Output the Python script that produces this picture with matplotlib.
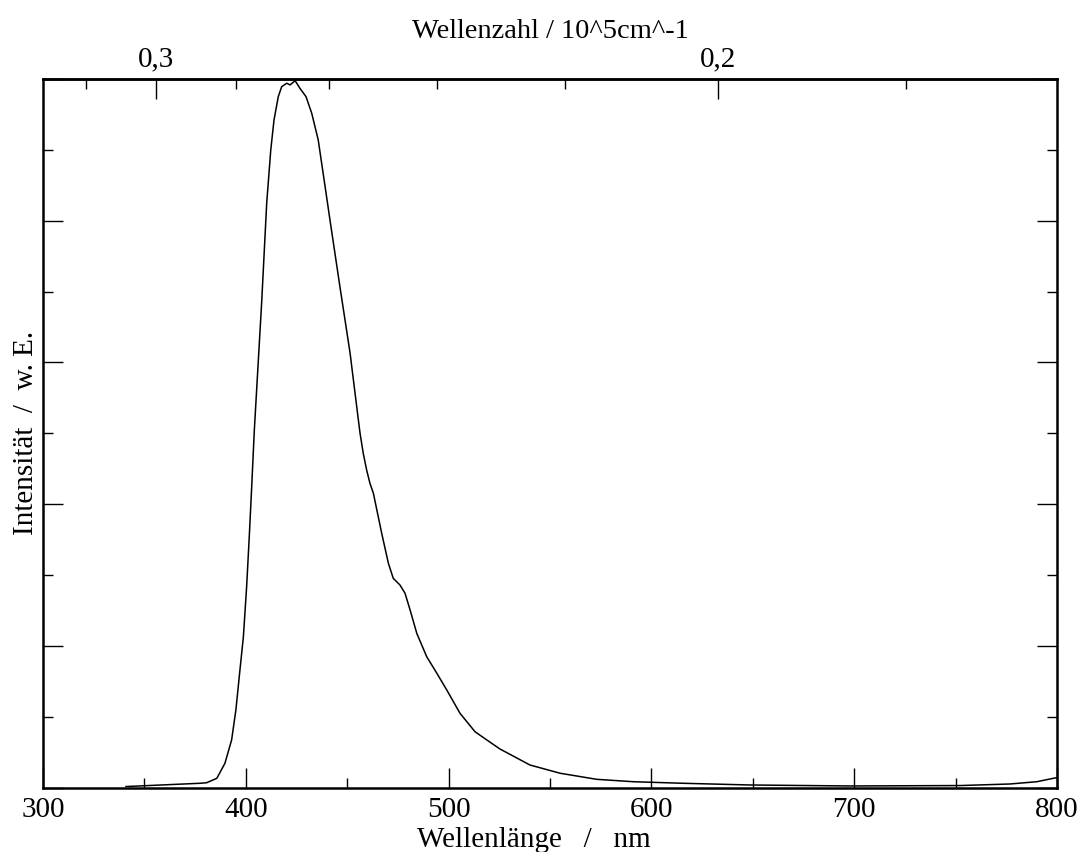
import numpy as np
import matplotlib
matplotlib.use("Agg")
import matplotlib.pyplot as plt
from matplotlib.ticker import FixedLocator, FuncFormatter, NullFormatter

plt.rcParams['font.family'] = ['Liberation Serif', 'DejaVu Serif']

# emission spectrum
wavelength = [340.9, 377.4, 380.7, 385.7, 389.7, 393.0, 395.1, 397.1, 398.8, 400.4,
              401.7, 402.9, 404.2, 407.8, 410.3, 412.3, 413.9, 416.0, 417.7, 420.2,
              421.8, 424.3, 426.7, 429.7, 432.5, 435.7, 439.1, 441.5, 446.4, 451.4,
              455.5, 456.3, 457.9, 459.6, 461.2, 462.9, 467.0, 470.3, 472.7, 476.0,
              478.5, 481.0, 484.3, 489.2, 494.2, 499.1, 505.6, 513.0, 518.8, 525.3,
              540.1, 554.9, 573.0, 591.1, 615.7, 648.6, 697.9, 752.2, 776.8, 790.0,
              799.9]
intensity = [0.008, 0.031, 0.035, 0.066, 0.172, 0.337, 0.548, 0.830, 1.065, 1.418,
             1.771, 2.124, 2.524, 3.420, 4.125, 4.499, 4.711, 4.875, 4.946, 4.970,
             4.958, 4.988, 4.934, 4.875, 4.758, 4.570, 4.240, 4.005, 3.535, 3.067,
             2.594, 2.503, 2.359, 2.240, 2.148, 2.077, 1.795, 1.583, 1.477, 1.430,
             1.372, 1.254, 1.089, 0.924, 0.807, 0.689, 0.525, 0.395, 0.337, 0.273,
             0.160, 0.102, 0.059, 0.042, 0.031, 0.019, 0.012, 0.015, 0.026, 0.042,
             0.071]

top_major = [0.2, 0.3]
top_minor = [0.18, 0.22, 0.24, 0.26, 0.28, 0.32]


def to_wavenumber(lam):
    lam = np.asarray(lam, dtype=float)
    return 166.4 / (lam + 199.0)


def to_wavelength(v):
    v = np.asarray(v, dtype=float)
    with np.errstate(divide='ignore'):
        return 166.4 / v - 199.0


fig = plt.figure(figsize=(10.81, 8.52), dpi=100)
ax = fig.add_axes([0.0398, 0.0755, 0.9380, 0.8318])

ax.plot(wavelength, intensity, color='black', linewidth=1.1)

ax.set_xlim(300, 800)
ax.set_ylim(0, 5)

ax.xaxis.set_major_locator(FixedLocator([300, 400, 500, 600, 700, 800]))
ax.xaxis.set_minor_locator(FixedLocator([350, 450, 550, 650, 750]))
ax.yaxis.set_major_locator(FixedLocator([0, 1, 2, 3, 4, 5]))
ax.yaxis.set_minor_locator(FixedLocator([0.5, 1.5, 2.5, 3.5, 4.5]))
ax.yaxis.set_major_formatter(NullFormatter())

ax.tick_params(which='both', direction='in', width=1.0, top=False, right=True,
               labelsize=21, pad=7)
ax.tick_params(which='major', length=14.5)
ax.tick_params(which='minor', length=7.2)

for s in ax.spines.values():
    s.set_linewidth(1.8)

ax.set_xlabel('Wellenlänge   /   nm', fontsize=21)
ax.xaxis.set_label_coords(0.484, -0.055)
ax.set_ylabel('Intensität  /  w. E.', fontsize=21)
ax.yaxis.set_label_coords(-0.004, 0.5)

secax = ax.secondary_xaxis('top', functions=(to_wavenumber, to_wavelength))
secax.xaxis.set_major_locator(FixedLocator(top_major))
secax.xaxis.set_minor_locator(FixedLocator(top_minor))
secax.xaxis.set_major_formatter(FuncFormatter(lambda v, p: ('%.1f' % v).replace('.', ',')))
secax.tick_params(which='both', direction='in', width=1.0, labelsize=21, pad=5)
secax.tick_params(which='major', length=14.5)
secax.tick_params(which='minor', length=7.2)
secax.spines['top'].set_linewidth(1.8)
secax.set_xlabel('Wellenzahl / 10^5cm^-1', fontsize=20.5, labelpad=6)

fig.savefig('out.png', dpi=100)
